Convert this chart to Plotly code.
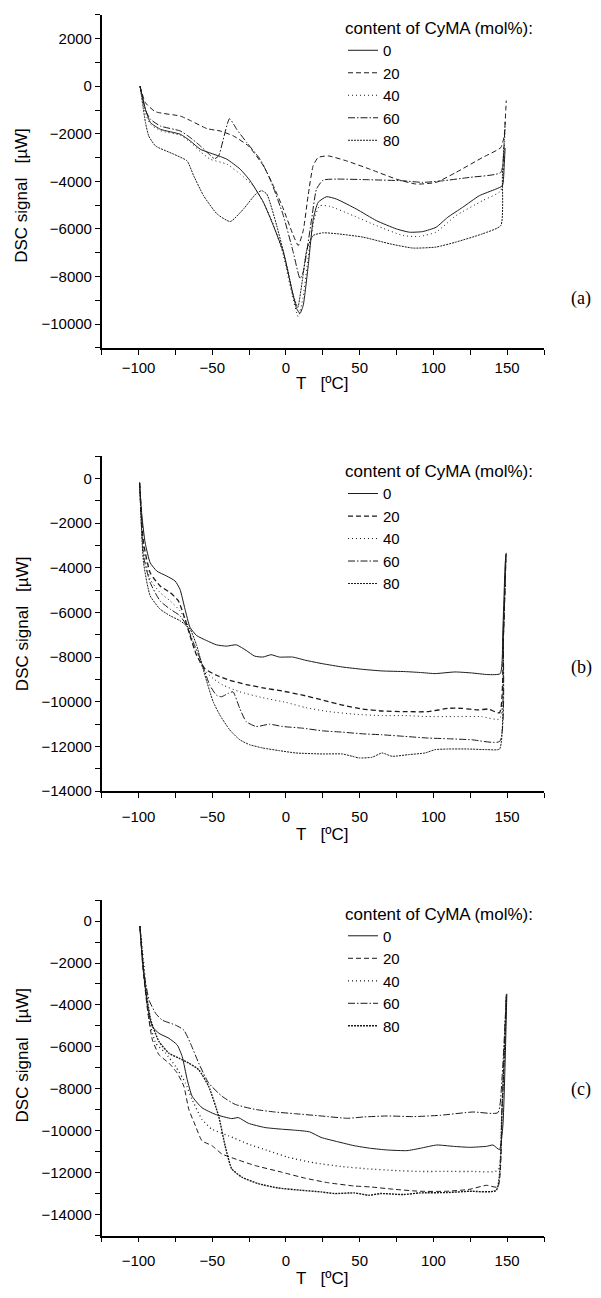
import plotly.graph_objects as go

# ---------------- data (T in °C, DSC signal in µW) ----------------
series_names = ["0", "20", "40", "60", "80"]

# panel (a)
a_T0 = [-99, -95.3, -91.9, -85.1, -71.6, -64.9, -58.1, -45.7, -40.1, -31.1, -24.3, -15.3, -8.6, -1.8, 3.8, 7.2, 9.5, 11.7, 15.1, 18.5, 21.8, 27.5, 34.2, 47.7, 61.3, 74.8, 83.8, 92.8, 101.8, 109.7, 119.8, 131.1, 142.3, 146.8, 148, 148.6]
a_V0 = [0, -975, -1531, -1812, -2021, -2301, -2649, -2929, -3067, -3485, -3975, -4879, -5858, -6975, -8510, -9347, -9556, -9207, -7533, -5580, -4883, -4645, -4743, -5162, -5650, -5998, -6138, -6110, -5929, -5510, -5092, -4604, -4325, -4185, -3348, -2600]
a_T20 = [-99, -95.3, -88.5, -71.6, -64.9, -53.6, -44.6, -35.6, -25.5, -15.3, -8.6, -1.8, 4.5, 8.3, 11.7, 15.0, 18.4, 21.8, 28.6, 41, 56.8, 74.8, 88.3, 101.8, 115.3, 133.3, 145.7, 148, 149.1, 149.4]
a_V20 = [0, -697, -1071, -1255, -1440, -1782, -1883, -2092, -2510, -3347, -4184, -5159, -6200, -6695, -6067, -4600, -3347, -2997, -2929, -3138, -3485, -3904, -4113, -4042, -3623, -2996, -2577, -2092, -975, -600]
a_T40 = [-99, -95.3, -91.9, -85.1, -71.6, -64.9, -58.1, -51.4, -40.1, -31.1, -22, -15.3, -8.6, -1.8, 3.8, 8.3, 11.5, 15.8, 19.5, 23, 29.7, 45.5, 61.3, 79.3, 90.5, 101.8, 115.3, 133.3, 145.7, 148, 148.6]
a_V40 = [0, -1150, -1600, -1870, -2060, -2350, -2750, -3067, -3276, -3694, -4200, -4900, -5800, -7100, -8700, -9690, -8900, -6833, -5500, -5021, -5048, -5439, -5858, -6276, -6318, -6134, -5439, -4812, -4393, -2720, -1800]
a_T60 = [-99, -95.3, -91.9, -85.1, -71.6, -64.9, -58.1, -51.4, -48.5, -45.7, -38.3, -33.4, -26.6, -17.6, -10.8, -1.8, 5, 9.5, 11.7, 17.4, 20.7, 25.2, 34.2, 56.7, 79.3, 92.8, 106.3, 124.3, 145.7, 148, 148.6]
a_V60 = [0, -1000, -1390, -1674, -1883, -2160, -2510, -2900, -3050, -2929, -1364, -1812, -2370, -3067, -3904, -5439, -7000, -8088, -7810, -5577, -4322, -3945, -3904, -3932, -3975, -4042, -3975, -3833, -3623, -2370, -1500]
a_T80 = [-99, -95.3, -93.1, -88.5, -76.1, -67.1, -62.6, -55.9, -46.8, -37.8, -28.8, -20, -16.4, -13, -6.3, 0, 5, 8, 11, 14, 18.4, 25.2, 34.2, 52.3, 70.3, 86.1, 101.8, 115.3, 133.3, 145.7, 146.8, 147.8]
a_V80 = [0, -1530, -2092, -2510, -2858, -3138, -3765, -4603, -5368, -5690, -5159, -4500, -4393, -4533, -5858, -7400, -8800, -9300, -8200, -6900, -6276, -6163, -6200, -6345, -6623, -6804, -6762, -6552, -6205, -5858, -3765, -2500]

# panel (b)
b_T0 = [-99.3, -97.7, -95.5, -92.1, -87.6, -80.9, -75.2, -71.9, -68.5, -65.1, -60.6, -53.9, -47.2, -40.4, -33.7, -27, -21.3, -15.7, -10.1, -4.5, 4.5, 13.5, 24.7, 38.2, 51.7, 65.1, 80.9, 92.1, 101.1, 114.6, 125.8, 137, 145.3, 147.1, 148.7, 149.4]
b_V0 = [-193, -1703, -2888, -3777, -4147, -4369, -4591, -4961, -5850, -6665, -7035, -7257, -7449, -7508, -7449, -7701, -7953, -7997, -7893, -7997, -7997, -8145, -8294, -8442, -8545, -8619, -8649, -8693, -8738, -8664, -8708, -8782, -8738, -6739, -3777, -3332]
b_T20 = [-99.3, -96.6, -92.1, -85.4, -78.6, -73, -68.5, -65.1, -60.6, -55, -47.2, -38.2, -27, -15.7, -2.2, 11.2, 24.7, 38.2, 51.7, 65.1, 80.9, 96.6, 110.1, 119.1, 130.3, 137, 144.9, 147.5, 149.2]
b_V20 = [-193, -2888, -4221, -4813, -5109, -5480, -6294, -7035, -7923, -8516, -8812, -9034, -9227, -9375, -9523, -9701, -9923, -10145, -10323, -10412, -10441, -10441, -10293, -10293, -10367, -10323, -10486, -7000, -3400]
b_T40 = [-99.3, -96.6, -92.1, -85.4, -78.6, -71.9, -67.4, -62.9, -56.2, -49.4, -42.7, -31.4, -15.7, 0, 13.5, 29.2, 47.2, 65.1, 80.9, 96.6, 114.6, 132.5, 144.9, 147.5, 149.2]
b_V40 = [-193, -3184, -4517, -5109, -5480, -5924, -6442, -7479, -8516, -8960, -9256, -9553, -9819, -10027, -10264, -10441, -10560, -10619, -10619, -10663, -10663, -10663, -10767, -7000, -3400]
b_T60 = [-99.3, -96.6, -92.1, -85.4, -78.6, -71.9, -67.4, -62.9, -57.3, -51.7, -47.2, -43.8, -39.3, -35.9, -31.4, -27, -20.2, -11.2, -2.2, 11.2, 24.7, 38.2, 51.7, 65.1, 80.9, 96.6, 110.1, 125.8, 144.9, 147.5, 149.2]
b_V60 = [-193, -3480, -4665, -5480, -5850, -6146, -6590, -7331, -8220, -9256, -9701, -9775, -9627, -9553, -10293, -10886, -11108, -11004, -11108, -11182, -11300, -11360, -11434, -11478, -11552, -11626, -11656, -11700, -11774, -7000, -3400]
b_T80 = [-99.3, -96.6, -92.1, -85.4, -78.6, -71.9, -65.1, -60.6, -55, -49.4, -44.9, -38.2, -31.4, -24.7, -15.7, -4.5, 6.7, 24.7, 38.2, 44.9, 49.4, 58.4, 65.1, 71.9, 83.1, 94.3, 101.1, 110.1, 123.5, 137, 144.9, 147.5, 149.2]
b_V80 = [-193, -3777, -5258, -5850, -6146, -6368, -6739, -7479, -8812, -9997, -10589, -11256, -11700, -11922, -12070, -12189, -12292, -12337, -12337, -12441, -12515, -12485, -12292, -12441, -12367, -12292, -12144, -12115, -12115, -12144, -12115, -7000, -3400]

# panel (c)
c_T0 = [-99.1, -97.3, -93.9, -90.6, -86.1, -79.4, -73.8, -70.4, -67, -63.7, -57, -48, -36.8, -32.3, -25.6, -14.3, -3.1, 5.8, 15.9, 23.8, 35, 46.2, 57.4, 68.6, 82.1, 91, 102.2, 113.5, 124.7, 135.9, 140.4, 144.8, 147.1, 149.8]
c_V0 = [-236, -1890, -4095, -5040, -5355, -5591, -5906, -6458, -7560, -8348, -8899, -9214, -9419, -9371, -9639, -9844, -9923, -9970, -10049, -10316, -10521, -10710, -10836, -10915, -10946, -10836, -10679, -10742, -10789, -10742, -10679, -10899, -9765, -3465]
c_T20 = [-99.1, -97.3, -93.9, -90.6, -86.1, -79.4, -73.8, -69.3, -65.9, -61.4, -57, -50.2, -43.5, -34.5, -21.1, -3.1, 12.6, 28.3, 46.2, 57.4, 73.1, 91, 109, 124.7, 135.9, 143.7, 146.5, 149.5]
c_V20 = [-236, -2048, -4253, -5670, -6379, -6773, -7245, -7875, -8978, -9765, -10474, -10710, -11104, -11340, -11655, -11970, -12254, -12474, -12632, -12679, -12789, -12884, -12884, -12789, -12600, -12679, -9000, -3500]
c_T40 = [-99.1, -96.2, -92.8, -88.3, -81.6, -74.9, -68.2, -63.7, -57, -50.2, -39, -25.6, -12.1, 1.3, 19.3, 37.2, 55.2, 73.1, 91, 109, 126.9, 143.7, 146.5, 149.5]
c_V40 = [-236, -2205, -4725, -5828, -6300, -6930, -7718, -8505, -9450, -9923, -10238, -10631, -10946, -11261, -11529, -11702, -11813, -11891, -11939, -11939, -11939, -11891, -9000, -3500]
c_T60 = [-99.1, -96.2, -92.8, -88.3, -83.9, -74.9, -69.3, -64.8, -59.2, -52.5, -43.5, -34.5, -21.1, -7.6, 5.8, 23.8, 41.7, 52.9, 68.6, 86.5, 104.5, 126.9, 143.7, 146.5, 149.5]
c_V60 = [-236, -2520, -3780, -4410, -4725, -4961, -5198, -5828, -6773, -7718, -8348, -8741, -8978, -9104, -9183, -9293, -9403, -9340, -9293, -9324, -9261, -9104, -9135, -7500, -3500]
c_T80 = [-99.1, -96.2, -91.7, -86.1, -79.4, -72.6, -65.9, -59.2, -52.5, -45.7, -41.3, -36.8, -30, -18.8, -5.4, 10.3, 23.8, 32.7, 46.2, 56.3, 64.1, 79.8, 91, 109, 124.7, 142.6, 146.5, 149.5]
c_V80 = [-236, -2678, -4725, -5749, -6300, -6536, -6773, -7088, -7875, -9293, -10710, -11813, -12206, -12521, -12726, -12836, -12915, -12994, -12962, -13073, -12994, -13041, -12962, -12946, -12884, -12836, -9000, -3500]

panel_labels = ["(a)", "(b)", "(c)"]
x_title = "T\u00a0\u00a0\u00a0[ºC]"
y_title = "DSC signal\u00a0\u00a0\u00a0[µW]"
legend_title = "content of CyMA (mol%):"

panels = [
    [(a_T0, a_V0), (a_T20, a_V20), (a_T40, a_V40), (a_T60, a_V60), (a_T80, a_V80)],
    [(b_T0, b_V0), (b_T20, b_V20), (b_T40, b_V40), (b_T60, b_V60), (b_T80, b_V80)],
    [(c_T0, c_V0), (c_T20, c_V20), (c_T40, c_V40), (c_T60, c_V60), (c_T80, c_V80)],
]
y_ranges = [[-11000, 3000], [-14000, 1000], [-15000, 1000]]

# ---------------- layout geometry (pixels) ----------------
W, H = 601, 1298
x_left, x_right = 101.7, 544
panel_px = [(15, 350), (459, 796), (905.7, 1243.3)]
legend_top_px = [12, 458, 903]
label_y_px = [300, 672, 1096]
ytitle_y_px = [197, 628, 1062]
xtitle_y_px = [386, 840, 1286]
xlabel_standoff = [0, 6, 6]

dashes = ["solid", "5px,3px", "1px,3px", "7px,2px,1.5px,2px", "2px,1px"]
widths = [[1, 1, 1, 1, 1], [1, 1.3, 1, 1, 1], [1, 1, 1.3, 1, 1.4]]

fig = go.Figure()
for p, series in enumerate(panels):
    for s, (T, V) in enumerate(series):
        fig.add_trace(go.Scatter(
            x=T, y=V, mode="lines", name=series_names[s],
            line=dict(color="#1a1a1a", width=widths[p][s], dash=dashes[s], shape="spline", smoothing=0.5),
            xaxis="x" if p == 0 else f"x{p+1}",
            yaxis="y" if p == 0 else f"y{p+1}",
            legend="legend" if p == 0 else f"legend{p+1}",
        ))

font_family = "Liberation Sans"
layout = dict(
    width=W, height=H, margin=dict(l=0, r=0, t=0, b=0),
    paper_bgcolor="white", plot_bgcolor="white", showlegend=True,
    font=dict(family=font_family, color="black"),
)
annotations = []
for p in range(3):
    top, bot = panel_px[p]
    sfx = "" if p == 0 else str(p + 1)
    axis_common = dict(
        showline=True, linecolor="black", linewidth=1.5, mirror=False,
        showgrid=False, zeroline=False, ticks="outside", ticklen=5, tickwidth=1.2,
        tickcolor="black", tickfont=dict(size=15, family=font_family, color="black"),
        tickformat="d", separatethousands=False,
    )
    layout["xaxis" + sfx] = dict(
        domain=[x_left / W, x_right / W], range=[-125, 175], dtick=50, tick0=0,
        minor=dict(dtick=25, ticks="outside", ticklen=5, tickwidth=1.2, tickcolor="black"),
        ticklabelstandoff=xlabel_standoff[p],
        anchor="y" + sfx, **axis_common)
    layout["yaxis" + sfx] = dict(
        domain=[1 - bot / H, 1 - top / H], range=y_ranges[p], dtick=2000, tick0=0,
        minor=dict(dtick=1000, ticks="outside", ticklen=5, tickwidth=1.2, tickcolor="black"),
        anchor="x" + sfx, **axis_common)
    layout["legend" + sfx] = dict(
        x=343 / W, y=1 - legend_top_px[p] / H, xanchor="left", yanchor="top",
        bgcolor="rgba(0,0,0,0)", borderwidth=0, tracegroupgap=0,
        font=dict(size=15, family=font_family, color="black"),
        title=dict(text=legend_title, font=dict(size=17, family=font_family, color="black")),
        itemwidth=30,
    )
    annotations.append(dict(text=panel_labels[p], x=581 / W, y=1 - label_y_px[p] / H,
                            xref="paper", yref="paper", showarrow=False,
                            xanchor="center", yanchor="middle",
                            font=dict(size=18, family="Liberation Serif", color="black")))
    annotations.append(dict(text=y_title, x=22 / W, y=1 - ytitle_y_px[p] / H, textangle=-90,
                            xref="paper", yref="paper", showarrow=False,
                            xanchor="center", yanchor="middle",
                            font=dict(size=17, family=font_family, color="black")))
    annotations.append(dict(text=x_title, x=(x_left + x_right) / 2 / W, y=1 - xtitle_y_px[p] / H,
                            xref="paper", yref="paper", showarrow=False,
                            xanchor="center", yanchor="middle",
                            font=dict(size=17, family=font_family, color="black")))
layout["annotations"] = annotations
fig.update_layout(**layout)
fig.write_html("out.html")
